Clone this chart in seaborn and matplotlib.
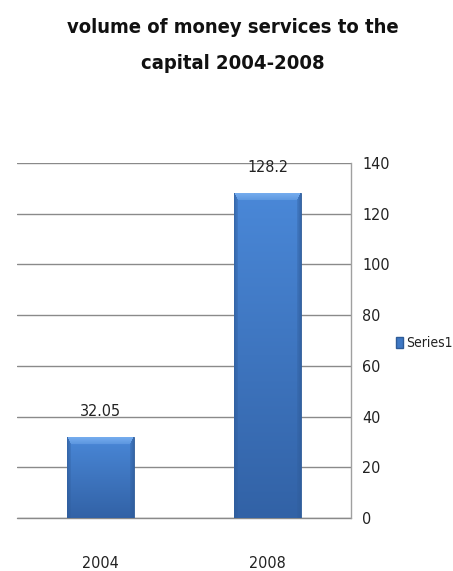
import numpy as np
import pandas as pd
import matplotlib
matplotlib.use("Agg")
import matplotlib.pyplot as plt
import matplotlib.font_manager as fm
import seaborn as sns
from matplotlib.colors import to_rgb
from matplotlib.patches import Patch

# Chart data
years = ["2004", "2008"]
values = [32.05, 128.2]
value_labels = ["32.05", "128.2"]
series_name = "Series1"
y_ticks = [0, 20, 40, 60, 80, 100, 120, 140]
title = "volume of money services to the\ncapital 2004-2008"

# pick a narrow sans face if one is installed
narrow = None
for f in fm.fontManager.ttflist:
    st = str(f.stretch).lower()
    if ("narrow" in f.name.lower() or "condensed" in f.name.lower()
            or st in ("condensed", "semi-condensed", "extra-condensed", "ultra-condensed")
            or (isinstance(f.stretch, int) and f.stretch < 500)):
        narrow = (f.name, f.stretch)
        break

sns.set_theme(style="white")
if narrow is not None:
    plt.rcParams["font.family"] = [narrow[0], "DejaVu Sans"]
    plt.rcParams["font.stretch"] = narrow[1]
else:
    plt.rcParams["font.family"] = ["Liberation Sans", "DejaVu Sans"]

label_size = 11.5
text_color = "#222222"

df = pd.DataFrame({"year": years, "value": values})

fig = plt.figure(figsize=(4.53, 5.71), dpi=100)
ax = fig.add_axes([0.0375, 0.0928, 0.7375, 0.6217])

sns.barplot(data=df, x="year", y="value", color="#3f78c4", saturation=1,
            width=0.4, ax=ax, zorder=3)

ax.set_xlim(-0.5, 1.5)
ax.set_ylim(0, 140)
ax.set_yticks(y_ticks)
ax.yaxis.tick_right()
ax.set_xlabel("")
ax.set_ylabel("")

# grid and frame
ax.grid(axis="y", color="#8a8a8a", linewidth=1.0, zorder=0)
ax.grid(axis="x", visible=False)
ax.axhline(0, color="#8a8a8a", linewidth=1.0, zorder=2, clip_on=False)
for side in ["top", "left", "bottom"]:
    ax.spines[side].set_visible(False)
ax.spines["right"].set_color("#a0a0a0")
ax.spines["right"].set_linewidth(1.0)
ax.tick_params(axis="y", length=0, pad=8, labelsize=label_size, labelcolor=text_color)
ax.tick_params(axis="x", length=0, pad=27, labelsize=label_size, labelcolor=text_color)

# bevelled bar faces, built at pixel resolution
fig.canvas.draw()
top_c = np.array(to_rgb("#4a88d8"))
bot_c = np.array(to_rgb("#3262a6"))
bevel_c = np.array(to_rgb("#7ab0f0"))
side_c = np.array(to_rgb("#2f5c9a"))
for patch in list(ax.patches):
    x0, y0 = patch.get_x(), patch.get_y()
    w, h = patch.get_width(), patch.get_height()
    p0 = ax.transData.transform((x0, y0))
    p1 = ax.transData.transform((x0 + w, y0 + h))
    wpx = int(round(abs(p1[0] - p0[0])))
    hpx = int(round(abs(p1[1] - p0[1])))
    r = np.arange(hpx)[:, None] + 0.5            # depth from top
    c = np.arange(wpx)[None, :] + 0.5
    cd = np.minimum(c, wpx - c)                  # distance from nearest side
    t = (r / hpx)[..., None]
    img = top_c * (1 - t) + bot_c * t
    img = np.broadcast_to(img, (hpx, wpx, 3)).copy()
    top_depth, side_depth = 8.0, 4.0
    in_top = (r < top_depth) & (cd > r * side_depth / top_depth)
    in_side = (~in_top) & (cd < side_depth)
    ft = np.clip(1 - r / top_depth, 0, 1) * 0.6 + 0.4
    img[in_top] = (img * (1 - ft[..., None]) + bevel_c * ft[..., None])[in_top]
    fs = np.clip(1 - cd / side_depth, 0, 1) * 0.5 + 0.25
    img[in_side] = (img * (1 - fs[..., None]) + side_c * fs[..., None])[in_side]
    im = ax.imshow(np.clip(img, 0, 1), extent=[x0, x0 + w, y0, y0 + h],
                   aspect="auto", zorder=4, interpolation="bilinear")
    im.set_clip_path(patch)
    patch.set_edgecolor("#2f5c98")
    patch.set_linewidth(0.6)

ax.set_xlim(-0.5, 1.5)
ax.set_ylim(0, 140)

ax.bar_label(ax.containers[0], labels=value_labels, padding=13,
             fontsize=label_size, color=text_color, zorder=6)

fig.legend(handles=[Patch(facecolor="#3f78c4", edgecolor="#2f5c98", label=series_name)],
           loc="center left", bbox_to_anchor=(0.874, 0.399), frameon=False,
           borderpad=0, borderaxespad=0,
           handlelength=0.5, handleheight=0.9, handletextpad=0.2,
           fontsize=10, labelcolor=text_color)

fig.text(0.515, 0.92, title, ha="center", va="center", fontsize=14.5,
         fontweight="bold", linespacing=2.15, color="#111111")

fig.savefig("out.png", dpi=100)
